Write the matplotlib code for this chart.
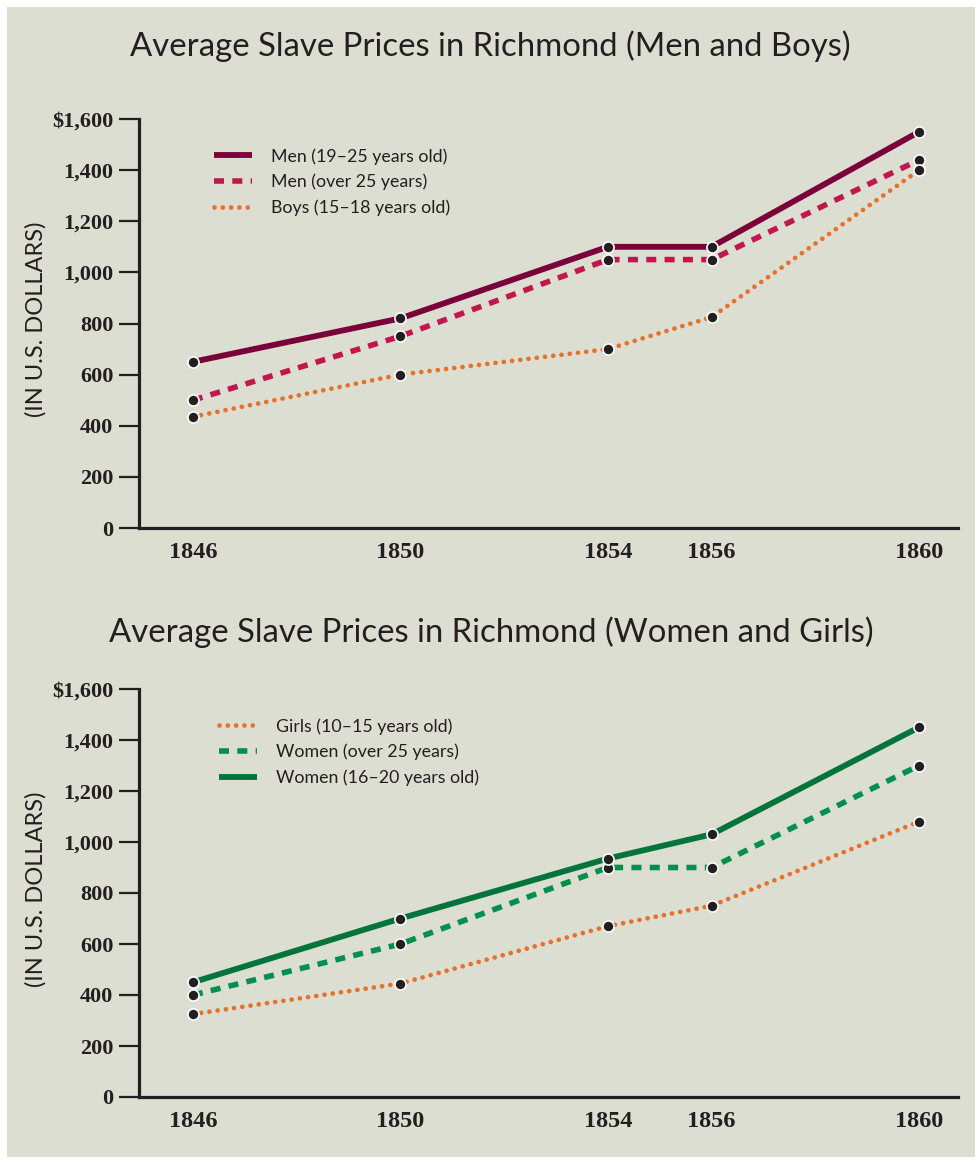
import matplotlib
matplotlib.use("Agg")
import matplotlib.pyplot as plt
from matplotlib.patches import Rectangle

# Data: average prices in Richmond (U.S. dollars)
years = [1846, 1850, 1854, 1856, 1860]

men_19_25 = [650, 820, 1100, 1100, 1550]
men_over_25 = [500, 750, 1050, 1050, 1440]
boys_15_18 = [435, 600, 700, 825, 1400]

girls_10_15 = [325, 445, 670, 750, 1080]
women_over_25 = [400, 600, 900, 900, 1300]
women_16_20 = [450, 700, 935, 1030, 1450]

y_ticks = [0, 200, 400, 600, 800, 1000, 1200, 1400, 1600]
y_tick_labels = ["0", "200", "400", "600", "800", "1,000", "1,200", "1,400", "$1,600"]

title_top = "Average Slave Prices in Richmond (Men and Boys)"
title_bottom = "Average Slave Prices in Richmond (Women and Girls)"
y_label = "(IN U.S. DOLLARS)"

BG = "#dcded2"
INK = "#231f20"
MAROON = "#7b0039"
CRIMSON = "#c2164f"
ORANGE = "#e5712a"
DKGREEN = "#00743a"
GREEN = "#008f4c"

SERIF = "Liberation Serif"
SANS = "Lato"

W, H = 975, 1161
fig = plt.figure(figsize=(W / 100, H / 100), dpi=100, facecolor="white")
fig.patches.append(Rectangle((7 / W, 4 / H), 1 - 7 / W, 1 - 11 / H,
                             transform=fig.transFigure, facecolor=BG,
                             edgecolor="none", zorder=-10))

solid = dict(linestyle="-", linewidth=4.2, solid_capstyle="butt")
dashed = dict(linestyle=(0, (1.8, 1.5)), linewidth=4.0, dash_capstyle="butt")
dotted = dict(linestyle=(0, (0.01, 1.75)), linewidth=3.4, dash_capstyle="round")


def setup_axes(ax):
    ax.set_facecolor("none")
    ax.set_xlim(1844.96, 1860.75)
    ax.set_ylim(0, 1600)
    for s in ("top", "right"):
        ax.spines[s].set_visible(False)
    for s in ("left", "bottom"):
        ax.spines[s].set_linewidth(2.3)
        ax.spines[s].set_color(INK)
        ax.spines[s].set_capstyle("projecting")
    ax.set_yticks(y_ticks)
    ax.set_yticklabels(y_tick_labels, fontfamily=SERIF, fontweight="bold",
                       fontsize=16, color=INK)
    ax.tick_params(axis="y", direction="out", length=14.5, width=1.6,
                   color=INK, pad=4)
    ax.set_xticks(years)
    ax.set_xticklabels([str(y) for y in years], fontfamily=SERIF,
                       fontweight="bold", fontsize=17.5, color=INK)
    ax.tick_params(axis="x", length=0, pad=10)
    ax.set_ylabel(y_label, fontfamily=SANS, fontsize=17, color=INK)
    ax.yaxis.set_label_coords(-0.113, 0.51)


def draw_markers(ax, series):
    for s in series:
        ax.plot(years, s, linestyle="none", marker="o", markersize=8.0,
                markerfacecolor=INK, markeredgecolor="white",
                markeredgewidth=1.2, zorder=10, clip_on=False)


def add_legend(ax, x0, y0):
    leg = ax.legend(loc="upper left", bbox_to_anchor=(x0, y0), frameon=False,
                    borderpad=0, borderaxespad=0, handlelength=2.15,
                    handletextpad=1.05, labelspacing=0.52,
                    prop={"family": SANS, "size": 12.8})
    for t in leg.get_texts():
        t.set_color(INK)


# Top chart: men and boys
ax1 = fig.add_axes([139 / W, 1 - 528 / H, 819 / W, 409 / H])
setup_axes(ax1)
ax1.plot(years, men_19_25, color=MAROON, label="Men (19\u201325 years old)", **solid)
ax1.plot(years, men_over_25, color=CRIMSON, label="Men (over 25 years)", **dashed)
ax1.plot(years, boys_15_18, color=ORANGE, label="Boys (15\u201318 years old)", **dotted)
draw_markers(ax1, [men_19_25, men_over_25, boys_15_18])
add_legend(ax1, (214 - 139) / 819, 1 - (148 - 119) / 409)

# Bottom chart: women and girls
ax2 = fig.add_axes([139 / W, 1 - 1097 / H, 819 / W, 408 / H])
setup_axes(ax2)
ax2.plot(years, girls_10_15, color=ORANGE, label="Girls (10\u201315 years old)", **dotted)
ax2.plot(years, women_over_25, color=GREEN, label="Women (over 25 years)", **dashed)
ax2.plot(years, women_16_20, color=DKGREEN, label="Women (16\u201320 years old)", **solid)
draw_markers(ax2, [girls_10_15, women_over_25, women_16_20])
add_legend(ax2, (219 - 139) / 819, 1 - (718 - 689) / 408)

fig.text(490 / W, 1 - 46 / H, title_top, ha="center", va="center",
         fontfamily=SANS, fontsize=23.7, color=INK)
fig.text(491 / W, 1 - 632 / H, title_bottom, ha="center", va="center",
         fontfamily=SANS, fontsize=23.7, color=INK)

fig.savefig("out.png", dpi=100, facecolor="white")
